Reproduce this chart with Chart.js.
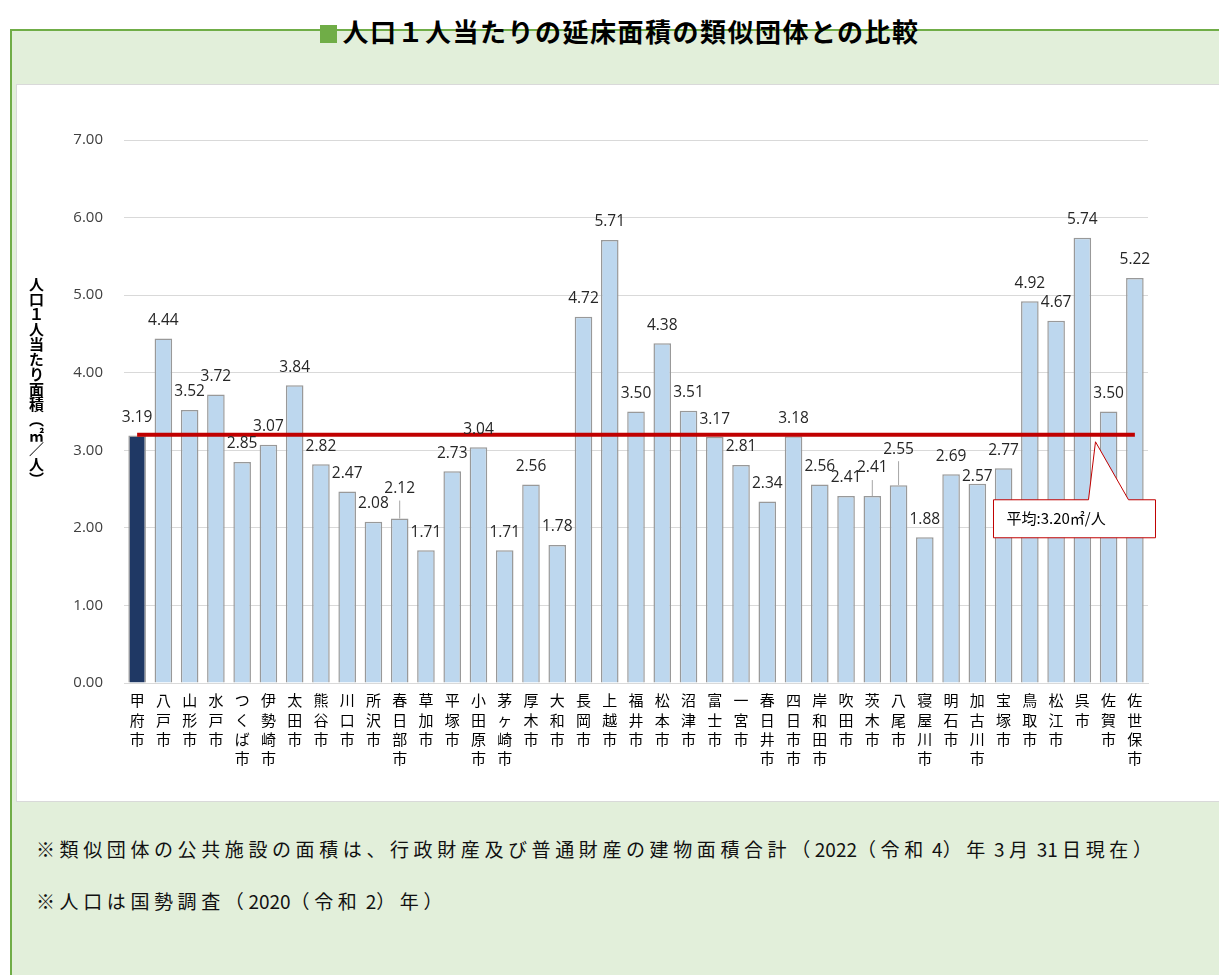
<!DOCTYPE html>
<html lang="ja">
<head>
<meta charset="utf-8">
<script src="https://cdn.jsdelivr.net/npm/chart.js@4.4.1/dist/chart.umd.min.js"></script>
<style>
  body { margin: 0; width: 1219px; height: 975px; overflow: hidden; background: #fff; font-family: "Noto Sans CJK JP", sans-serif; }
  #frame { position: absolute; left: 10px; top: 29px; width: 1230px; height: 980px; background: #e2efda; border-top: 2px solid #70ad47; border-left: 2px solid #70ad47; }
  #title { position: absolute; left: 10px; top: 17px; width: 1220px; text-align: center; font-size: 26px; line-height: 28px; font-weight: 700; letter-spacing: 1.5px; color: #000; }
  #title .mark { display: inline-block; width: 17px; height: 18px; background: #70ad47; margin-right: 5px; vertical-align: -1px; }
  #panel { position: absolute; left: 16px; top: 84px; width: 1210px; height: 716px; background: #fff; border: 1px solid #d9d9d9; }
  #panel canvas { position: absolute; left: 0; top: 0; }
  #ytitle { position: absolute; left: 26px; top: 277px; writing-mode: vertical-rl; font-size: 15px; font-weight: 600; color: #000; }
  #ytitle .up { text-orientation: upright; }
  .note { position: absolute; left: 36px; font-size: 19px; color: #111; letter-spacing: 4.6px; white-space: nowrap; }
  .note .n { letter-spacing: 0; }
</style>
</head>
<body>
<div id="frame"></div>
<div id="title"><span class="mark"></span>人口１人当たりの延床面積の類似団体との比較</div>
<div id="panel"><canvas id="barChart" width="1203" height="716"></canvas></div>
<div id="ytitle">人口１人当たり面積（<span class="up">㎡</span>／人）</div>
<div class="note" style="top:835px;">※類似団体の公共施設の面積は、行政財産及び普通財産の建物面積合計（<span class="n">2022</span>（令和<span class="n"> 4</span>）年<span class="n"> 3 </span>月<span class="n"> 31 </span>日現在）</div>
<div class="note" style="top:887px;">※人口は国勢調査（<span class="n">2020</span>（令和<span class="n"> 2</span>）年）</div>
<script>
// データ
const categories = [
  "甲府市", "八戸市", "山形市", "水戸市", "つくば市", "伊勢崎市", "太田市", "熊谷市",
  "川口市", "所沢市", "春日部市", "草加市", "平塚市", "小田原市", "茅ヶ崎市", "厚木市",
  "大和市", "長岡市", "上越市", "福井市", "松本市", "沼津市", "富士市", "一宮市",
  "春日井市", "四日市市", "岸和田市", "吹田市", "茨木市", "八尾市", "寝屋川市", "明石市",
  "加古川市", "宝塚市", "鳥取市", "松江市", "呉市", "佐賀市", "佐世保市"
];
const areaPerCapita = [
  3.19, 4.44, 3.52, 3.72, 2.85, 3.07, 3.84, 2.82,
  2.47, 2.08, 2.12, 1.71, 2.73, 3.04, 1.71, 2.56,
  1.78, 4.72, 5.71, 3.50, 4.38, 3.51, 3.17, 2.81,
  2.34, 3.18, 2.56, 2.41, 2.41, 2.55, 1.88, 2.69,
  2.57, 2.77, 4.92, 4.67, 5.74, 3.50, 5.22
];
const averageArea = 3.20;
const averageText = "平均:3.20㎡/人";
const yMin = 0, yMax = 7, yStep = 1;

// ラベルの上下ずらし (px)。引き出し線付きのもの
const labelLift = {10: 12, 28: 10, 29: 18, 32: -11};

const barColors = categories.map((c, i) => (i === 0 ? "#1f3864" : "#bdd7ee"));

const labelPlugin = {
  id: "labelPlugin",
  afterDatasetsDraw: (chart) => {
    const ctx = chart.ctx;
    const meta = chart.getDatasetMeta(0);
    ctx.save();
    ctx.font = "15.5px 'Open Sans'";
    ctx.textAlign = "center";
    ctx.textBaseline = "middle";
    meta.data.forEach((bar, i) => {
      const lift = labelLift[i] || 0;
      const y = bar.y - 18 - lift;
      if (lift > 0) {
        // 引き出し線
        ctx.beginPath();
        ctx.moveTo(bar.x, y + 12);
        ctx.lineTo(bar.x, bar.y);
        ctx.strokeStyle = "#a6a6a6";
        ctx.lineWidth = 1;
        ctx.stroke();
      }
      ctx.fillStyle = "#262626";
      ctx.fillText(areaPerCapita[i].toFixed(2), bar.x, y);
    });
    ctx.restore();
  },
};

const calloutPlugin = {
  id: "calloutPlugin",
  afterDraw: (chart) => {
    const ctx = chart.ctx;
    const ax = chart.scales.x.getPixelForValue(36.5);
    const ay = chart.scales.y.getPixelForValue(averageArea) + 7;
    const left = ax - 102, right = ax + 60, top = ay + 58, bottom = ay + 96;
    ctx.save();
    ctx.beginPath();
    ctx.moveTo(left, top);
    ctx.lineTo(ax - 7, top);
    ctx.lineTo(ax, ay);
    ctx.lineTo(ax + 33, top);
    ctx.lineTo(right, top);
    ctx.lineTo(right, bottom);
    ctx.lineTo(left, bottom);
    ctx.closePath();
    ctx.fillStyle = "#fff";
    ctx.fill();
    ctx.strokeStyle = "#c00000";
    ctx.lineWidth = 1;
    ctx.stroke();
    ctx.font = "15px 'Noto Sans CJK JP'";
    ctx.fillStyle = "#000";
    ctx.textAlign = "left";
    ctx.textBaseline = "middle";
    ctx.fillText(averageText, left + 13, (top + bottom) / 2);
    ctx.restore();
  },
};

const ctx = document.getElementById("barChart").getContext("2d");
new Chart(ctx, {
  type: "bar",
  data: {
    labels: categories,
    datasets: [
      {
        type: "bar",
        label: "人口1人当たり面積",
        data: areaPerCapita,
        backgroundColor: barColors,
        borderColor: "#999999",
        borderWidth: 1.5,
        barPercentage: 0.67,
        categoryPercentage: 1,
        order: 2,
      },
      {
        type: "line",
        label: "平均",
        data: categories.map(() => averageArea),
        borderColor: "#c00000",
        borderWidth: 4,
        pointRadius: 0,
        fill: false,
        order: 1,
      },
    ],
  },
  options: {
    responsive: false,
    animation: false,
    layout: { padding: { left: 0, top: 55, right: 72, bottom: 0 } },
    plugins: {
      legend: { display: false },
      tooltip: { enabled: false },
    },
    scales: {
      x: {
        afterFit: (s) => { s.height = 118; },
        grid: { display: false, drawTicks: false },
        border: { color: "#d9d9d9" },
        ticks: {
          autoSkip: false,
          maxRotation: 0,
          minRotation: 0,
          padding: 8,
          color: "#000",
          font: { family: "'Noto Sans CJK JP'", size: 15, lineHeight: 1.28 },
          callback: (v, i) => [...categories[i]],
        },
      },
      y: {
        min: yMin,
        max: yMax,
        afterFit: (s) => { s.width = 107; },
        grid: { color: "#d9d9d9", drawTicks: false },
        border: { display: false },
        ticks: {
          stepSize: yStep,
          padding: 21,
          color: "#404040",
          font: { family: "'Open Sans'", size: 15 },
          callback: (v) => v.toFixed(2),
        },
      },
    },
  },
  plugins: [labelPlugin, calloutPlugin],
});
</script>
</body>
</html>
